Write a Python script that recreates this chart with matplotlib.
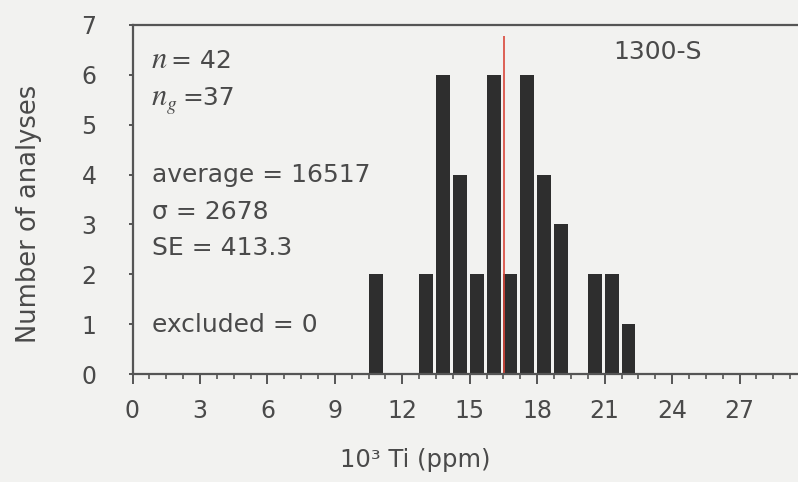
import numpy as np
import matplotlib
matplotlib.use("Agg")
from matplotlib import pyplot as plt
from matplotlib.ticker import MultipleLocator

# Ti histogram for sample 1300-S (x in 10^3 ppm)
bin_left = [10.5, 12.75, 13.5, 14.25, 15.0, 15.75, 16.5, 17.25, 18.0, 18.75, 20.25, 21.0, 21.75]
counts = [2, 2, 6, 4, 2, 6, 2, 6, 4, 3, 2, 2, 1]
average = 16.517
x_ticks = [0, 3, 6, 9, 12, 15, 18, 21, 24, 27]
y_ticks = [0, 1, 2, 3, 4, 5, 6, 7]

plt.rcParams['font.family'] = ['DejaVu Sans']

txt = '#4a4a4a'
bg = '#f2f2f0'

fig = plt.figure(figsize=(7.98, 4.82), dpi=100, facecolor=bg)
ax = fig.add_axes([132.5/798, 1 - 374/482, 1 - 132.5/798, (374 - 25)/482])
ax.set_facecolor(bg)

ax.bar(bin_left, counts, width=0.62, align='edge', color='#2e2e2e', edgecolor='none')
ax.vlines(average, 0, 6.78, color='#d9473a', lw=1.2)

ax.set_xlim(0, 29.6)
ax.set_ylim(0, 7)
ax.set_xticks(x_ticks)
ax.set_yticks(y_ticks)
ax.xaxis.set_minor_locator(MultipleLocator(0.75))

for s in ['left', 'bottom', 'top']:
    ax.spines[s].set_color('#555555')
    ax.spines[s].set_linewidth(1.6)
ax.spines['right'].set_visible(False)

ax.tick_params(axis='x', which='major', length=7, width=1.4, color='#555555',
               labelsize=17, labelcolor=txt, pad=11)
ax.tick_params(axis='x', which='minor', length=3.5, width=1.2, color='#555555')
ax.tick_params(axis='y', which='major', length=3, width=1.4, color='#555555',
               labelsize=17, labelcolor=txt, pad=23)

fig.text(29/798, 1 - 214/482, 'Number of analyses', rotation=90, ha='center', va='center',
         fontsize=18.5, color=txt)
fig.text(415/798, 1 - 460/482, '10³ Ti (ppm)', ha='center', va='center',
         fontsize=17.5, color=txt)

def fx(px):
    return px / 798

def fy(px):
    return 1 - px / 482

# italic serif n, as in the original
ital = dict(family='STIXGeneral', style='italic', color=txt)
fig.text(fx(152), fy(68), 'n', fontsize=22, va='baseline', **ital)
fig.text(fx(171), fy(68), '= 42', fontsize=18, va='baseline', color=txt)
fig.text(fx(152), fy(105), 'n', fontsize=22, va='baseline', **ital)
fig.text(fx(167), fy(110), 'g', fontsize=14, va='baseline', **ital)
fig.text(fx(182), fy(105), '=37', fontsize=18, va='baseline', color=txt)

stats = [('average = 16517', 175), ('σ = 2678', 212), ('SE = 413.3', 248),
         ('excluded = 0', 325)]
for s, ypix in stats:
    fig.text(fx(152), fy(ypix), s, ha='left', va='center', fontsize=18, color=txt)

fig.text(fx(613), fy(52), '1300-S', ha='left', va='center', fontsize=18, color=txt)

fig.savefig('out.png', dpi=100, facecolor=bg)
